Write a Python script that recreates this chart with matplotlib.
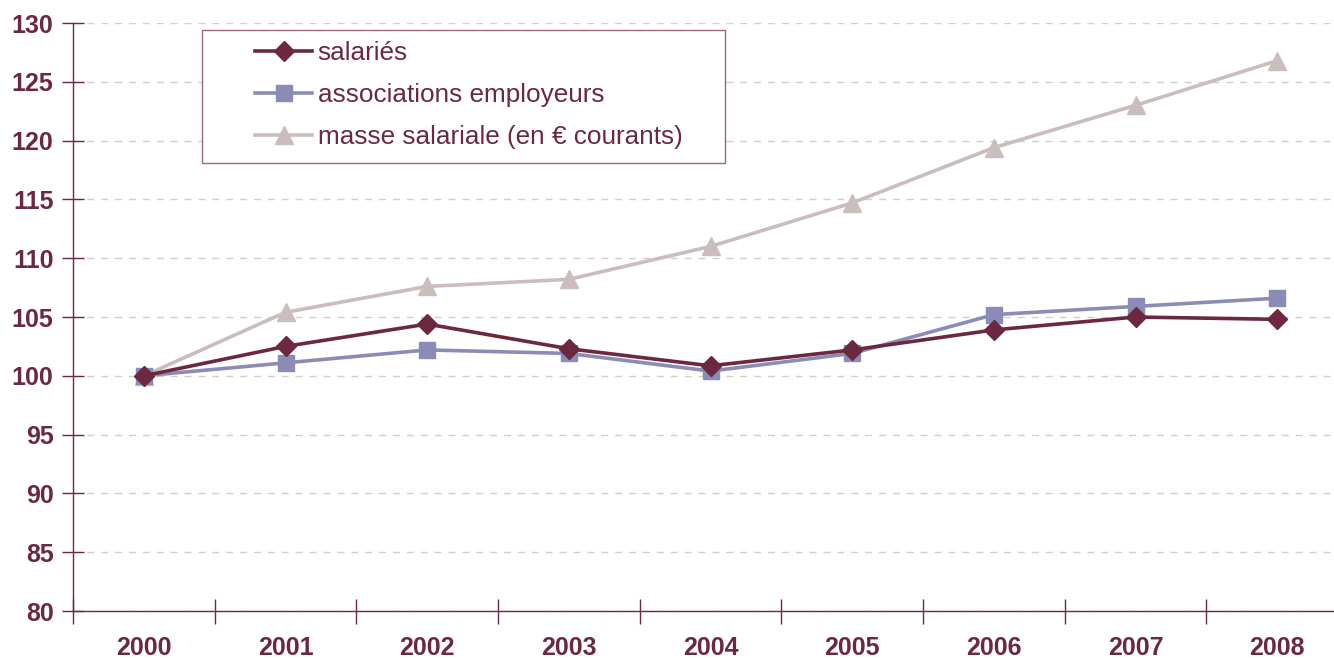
import matplotlib.pyplot as plt
from matplotlib.ticker import FixedLocator
from matplotlib.patches import Rectangle

plt.rcParams['font.family'] = ['Liberation Sans', 'DejaVu Sans']

# ---------- DATA ----------
years = ["2000", "2001", "2002", "2003", "2004", "2005", "2006", "2007", "2008"]
salaries = [100, 102.5, 104.4, 102.3, 100.85, 102.2, 103.9, 105.0, 104.8]
associations = [100, 101.1, 102.2, 101.9, 100.4, 101.9, 105.2, 105.9, 106.6]
masse = [100, 105.4, 107.6, 108.2, 111.0, 114.7, 119.4, 123.0, 126.8]

MAROON = "#6b2840"
LAVENDER = "#8b8cb6"
ROSE = "#cbbdbb"
GRID = "#d9cbcb"

W, H = 1334, 659
L, R, T, B = 73, 1348, 23, 611

# ---------- FIGURE ----------
fig = plt.figure(figsize=(W / 100, H / 100), dpi=100)
ax = fig.add_axes([L / W, 1 - B / H, (R - L) / W, (B - T) / H])

x = range(len(years))
ax.plot(x, masse, color=ROSE, lw=2.6, marker="^", ms=13, mec=ROSE,
        label="masse salariale (en € courants)", zorder=3)
ax.plot(x, associations, color=LAVENDER, lw=2.6, marker="s", ms=11,
        mec=LAVENDER, label="associations employeurs", zorder=4)
ax.plot(x, salaries, color=MAROON, lw=2.6, marker="D", ms=10, mec=MAROON,
        label="salariés", zorder=5)

ax.set_xlim(-0.5, 8.5)
ax.set_ylim(80, 130)
ax.set_yticks(range(80, 131, 5))

# ticks between categories, labels centred
ax.xaxis.set_major_locator(FixedLocator([i - 0.5 for i in range(10)]))
ax.xaxis.set_minor_locator(FixedLocator(list(x)))
ax.set_xticklabels([""] * 10)
ax.set_xticklabels(years, minor=True)
ax.tick_params(axis="x", which="major", direction="inout", length=18,
               width=1, color=MAROON)
ax.tick_params(axis="x", which="minor", length=0, pad=18, labelsize=18,
               labelcolor=MAROON)
ax.tick_params(axis="y", direction="inout", length=16, width=1,
               color=MAROON, pad=6, labelsize=18, labelcolor=MAROON)
for lab in ax.get_xticklabels(minor=True) + ax.get_yticklabels():
    lab.set_fontweight("bold")

for s in ["top", "right"]:
    ax.spines[s].set_visible(False)
for s in ["left", "bottom"]:
    ax.spines[s].set_color(MAROON)
    ax.spines[s].set_linewidth(1)

ax.yaxis.grid(True, color=GRID, ls=(0, (5, 5)), lw=1)
ax.set_axisbelow(True)

# ---------- LEGEND ----------
# frame drawn separately so the entries can sit with a wide left margin
def px(xp, yp):
    return (xp - L) / (R - L), 1 - (yp - T) / (B - T)

x0, y0 = px(202, 163)
x1, y1 = px(725, 30)
ax.add_patch(Rectangle((x0, y0), x1 - x0, y1 - y0, transform=ax.transAxes,
                       facecolor="white", edgecolor="#9a6a7c", lw=1,
                       zorder=6))

h, l = ax.get_legend_handles_labels()
leg = ax.legend(h[::-1], l[::-1], loc="upper left",
                bbox_to_anchor=px(247, 33), fontsize=18.8, frameon=False,
                handlelength=2.2, handletextpad=0.2, borderpad=0.3,
                labelspacing=0.7, borderaxespad=0)
leg.set_zorder(7)
for t in leg.get_texts():
    t.set_color(MAROON)

fig.savefig("out.png", dpi=100)
